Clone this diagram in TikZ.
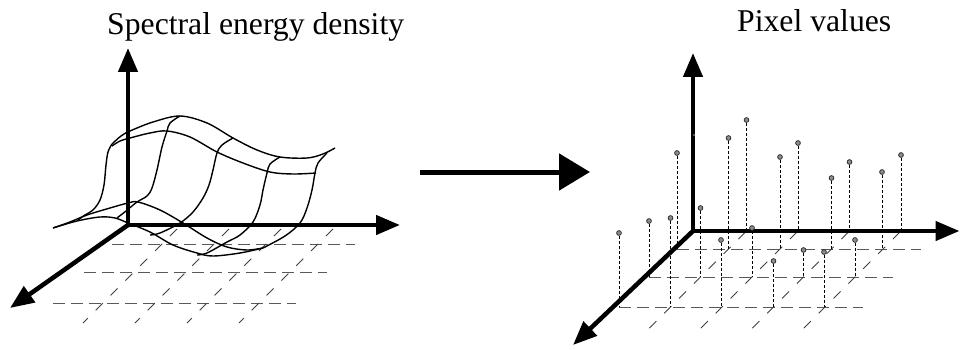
\documentclass[tikz,border=0pt]{standalone}
\usepackage{fontspec}
\setmainfont{Liberation Serif}
\usetikzlibrary{arrows.meta}
\pgfdeclarelayer{bg}
\pgfsetlayers{bg,main}
\tikzset{
  axisarrow/.style={line width=4.5pt, black, line cap=round, -{Triangle[length=24pt,width=19pt]}},
  bigarrow/.style={line width=5pt, black, -{Triangle[length=31pt,width=36pt]}},
  gridrow/.style={line width=0.9pt, black!65, dash pattern=on 12pt off 6pt},
  griddiag/.style={line width=0.8pt, black!75, dash pattern=on 10pt off 11pt},
  surf/.style={line width=1.4pt, black, line join=round},
  stem/.style={line width=0.8pt, black, dash pattern=on 3pt off 2pt},
  pix/.style={circle, draw=black!85, fill=black!45, line width=0.7pt, inner sep=0pt, minimum size=4.8pt},
  axdot/.style={circle, fill=black!35, inner sep=0pt, minimum size=1.6pt},
  title/.style={anchor=base west, inner sep=0pt, font=\fontsize{31.7}{38}\selectfont},
}
\begin{document}
\begin{tikzpicture}[x=1pt,y=-1pt]
\useasboundingbox (0,0) rectangle (960,350);

% titles
\node[title] (t-left) at (107,35) {Spectral energy density};
\node[title] (t-right) at (737,32) {Pixel values};

% ---------- left panel: floor grid ----------
\foreach \v in {16,44,75}
  \draw[gridrow] ({128-\v},{228+\v}) -- ({371-\v},{228+\v});
\foreach \k in {1,2,3,4}
  \draw[griddiag] ({126+52*\k-1},229) -- ({126+52*\k-95},323);

% ---------- left panel: surface ----------
\draw[surf] plot[smooth, tension=0.55] coordinates {(112,144) (121,136) (130,131) (153,122) (180,116) (207,123) (233,138) (257,150) (280,157) (307,158) (323,154) (335,148)};
\draw[surf] plot[smooth, tension=0.55] coordinates {(112,146) (120,141) (130,138) (150,133) (167,131) (190,137) (217,152) (243,163) (270,172) (293,174) (316,173)};
\draw[surf] plot[smooth, tension=0.55] coordinates {(53,228) (70,222) (87,215) (110,208) (128,203) (138,202) (160,210) (183,223) (207,238) (227,247) (247,250) (263,248)};
\draw[surf] plot[smooth, tension=0.55] coordinates {(53,228) (77,221) (100,217) (115,218) (128,223) (150,232) (173,245) (197,253) (213,256) (240,253) (263,248)};
\draw[surf] plot[smooth, tension=0.55] coordinates {(112,144) (108,152) (106,165) (104,185) (100,200) (93,210) (85,215) (78,220)};
\draw[surf] plot[smooth, tension=0.55] coordinates {(180,116) (170,123) (167,131) (162,147) (157,170) (152,188) (147,196) (137,202) (126,211) (117,218)};
\draw[surf] plot[smooth, tension=0.55] coordinates {(233,138) (222,145) (217,153) (213,170) (209,185) (203,198) (193,212) (180,223) (160,233) (150,235)};
\draw[surf] plot[smooth, tension=0.55] coordinates {(280,157) (270,164) (267,173) (263,190) (260,205) (253,222) (240,235) (227,242) (207,253) (197,255)};
\draw[surf] plot[smooth, tension=0.55] coordinates {(327,153) (318,163) (315,173) (312,190) (307,208) (300,223) (285,236) (263,248)};

% ---------- left panel: axes ----------
\coordinate (L-o) at (128,225);
\coordinate (L-up) at (128,48);
\coordinate (L-right) at (400,225);
\coordinate (L-front) at (10,308);
\draw[axisarrow] (L-o) -- (L-up);
\draw[axisarrow] (L-o) -- (L-right);
\draw[axisarrow] (L-o) -- (L-front);

% ---------- middle arrow ----------
\coordinate (mid-a) at (420,172);
\coordinate (mid-b) at (590,172);
\draw[bigarrow] (mid-a) -- (mid-b);

% ---------- right panel: floor grid ----------
\begin{pgfonlayer}{bg}
\foreach \v in {18,46,76}
  \draw[gridrow] ({695-\v},{231+\v}) -- ({939-\v},{231+\v});
\foreach \k in {1,2,3,4}
  \draw[griddiag] ({695+51.5*\k-1},232) -- ({695+51.5*\k-99},330);
\end{pgfonlayer}

% ---------- right panel: axes ----------
\coordinate (R-o) at (693,231);
\coordinate (R-up) at (693,53);
\coordinate (R-right) at (959.5,231);
\coordinate (R-front) at (573,345);
\draw[axisarrow] (R-o) -- (R-up);
\draw[axisarrow] (R-o) -- (R-right);
\draw[axisarrow] (R-o) -- (R-front);

% ---------- right panel: pixel values ----------
\node[axdot] (p-00) at (694,135) {};
\foreach \n/\x/\yb/\yt in {
  01/746.5/231/120, 02/798/231/143, 03/849.5/231/162, 04/901/231/155,
  10/677/249/153, 11/728.5/249/138, 12/780/249/157, 13/831.5/249/178, 14/882/249/172,
  20/649/277/221, 21/700.5/277/208, 22/752/277/228, 23/803.5/277/250, 24/855/277/240,
  30/619/307/233, 31/670.5/307/218, 32/721/307/240, 33/773.5/307/261, 34/824/307/252}
{
  \coordinate (b-\n) at (\x,\yb);
  \node[pix] (p-\n) at (\x,\yt) {};
  \begin{pgfonlayer}{bg}
    \draw[stem] (p-\n) -- (b-\n);
  \end{pgfonlayer}
}
\end{tikzpicture}
\end{document}
